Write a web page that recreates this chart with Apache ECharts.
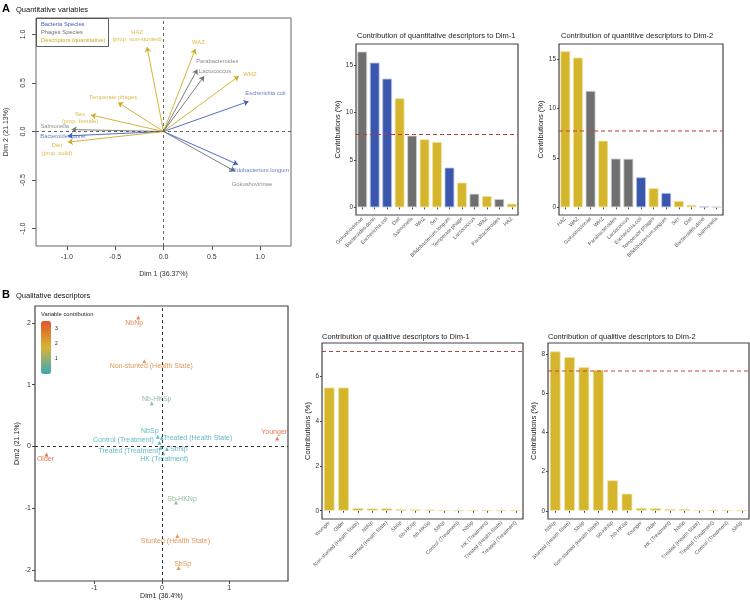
<!DOCTYPE html>
<html><head><meta charset="utf-8">
<script src="https://cdn.jsdelivr.net/npm/echarts@6/dist/echarts.min.js"></script>
<style>html,body{margin:0;padding:0;background:#fff}#c{width:750px;height:601px}</style>
</head><body><div id="c"></div>
<script>
// ===== Panel A: quantitative variables (correlation circle) =====
const quantNames = ['HAZ','WAZ','Parabacteroides','Lactococcus','WHZ','Escherichia.coli','Temperate phages','Sex','Salmonella','Bacteroides.dorei','Diet','Bifidobacterium.longum','Gokushovirinae'];
const quantLabelText = ['HAZ\n(prop. non-stunted)','WAZ','Parabacteroides','Lactococcus','WHZ','Escherichia.coli','Temperate phages','Sex\n(prop. female)','Salmonella','Bacteroides.dorei','Diet\n(prop. solid)','Bifidobacterium.longum','Gokushovirinae'];
const quantDim1 = [-0.17, 0.33, 0.35, 0.42, 0.78, 0.88, -0.47, -0.75, -0.95, -0.99, -0.99, 0.77, 0.74];
const quantDim2 = [0.87, 0.85, 0.64, 0.57, 0.57, 0.31, 0.30, 0.17, 0.02, -0.045, -0.11, -0.34, -0.41];
const quantGroup = ['desc','desc','phage','phage','desc','bact','desc','desc','phage','bact','desc','bact','phage'];

// ===== Contributions of quantitative descriptors =====
const qDim1Cats = ['Gokushovirinae','Bacteroides.dorei','Escherichia.coli','Diet','Salmonella','WHZ','Sex','Bifidobacterium.longum','Temperate phage','Lactococcus','WAZ','Parabacteroides','HAZ'];
const qDim1Vals = [16.4, 15.24, 13.55, 11.48, 7.55, 7.16, 6.88, 4.18, 2.6, 1.43, 1.19, 0.87, 0.38];
const qDim1Group = ['phage','bact','bact','desc','phage','desc','desc','bact','desc','phage','desc','phage','desc'];
const qDim2Cats = ['HAZ','WAZ','Gokushovirinae','WHZ','Parabacteroides','Lactococcus','Escherichia.coli','Temperate phages','Bifidobacterium.longum','Sex','Diet','Bacteroides.dorei','Salmonella'];
const qDim2Vals = [15.77, 15.13, 11.76, 6.73, 4.92, 4.9, 3.03, 1.92, 1.45, 0.64, 0.23, 0.07, 0.03];
const qDim2Group = ['desc','desc','phage','desc','phage','phage','bact','desc','bact','desc','desc','bact','phage'];
const qExpected = 7.69;

// ===== Panel B: qualitative descriptors =====
const qualNames = ['NbNp','Non-stunted (Health State)','Nb-HKSp','NbSp','Treated (Health State)','Control (Treatment)','Treated (Treatment)','SbNp','HK (Treatment)','Younger','Older','Sb-HKNp','Stunted (Health State)','SbSp'];
const qualDim1 = [-0.35, -0.26, -0.15, -0.06, 0.0, -0.035, -0.02, 0.074, 0.02, 1.71, -1.71, 0.21, 0.23, 0.25];
const qualDim2 = [2.09, 1.38, 0.70, 0.157, 0.14, 0.06, -0.02, -0.04, -0.11, 0.13, -0.13, -0.91, -1.45, -1.97];
const qualContrib = [3.1, 2.72, 0.6, 0.05, 0.03, 0.03, 0.03, 0.01, 0.05, 3.52, 3.52, 0.75, 2.8, 2.7];

const lDim1Cats = ['Younger','Older','Non-stunted (Health State)','NbNp','Stunted (Health State)','SbSp','Sb-HKNp','Nb-HKSp','SbNp','Control (Treatment)','NbSp','HK (Treatment)','Treated (Health State)','Treated (Treatment)'];
const lDim1Vals = [5.51, 5.51, 0.12, 0.10, 0.11, 0.07, 0.06, 0.045, 0.012, 0.012, 0.012, 0.012, 0.012, 0.012];
const lDim2Cats = ['NbNp','Stunted (Health State)','SbSp','Non-stunted (Health State)','Sb-HKNp','Nb-HKSp','Younger','Older','HK (Treatment)','NbSp','Treated (Health State)','Treated (Treatment)','Control (Treatment)','SbNp'];
const lDim2Vals = [8.12, 7.83, 7.32, 7.18, 1.55, 0.87, 0.14, 0.13, 0.085, 0.08, 0.02, 0.02, 0.02, 0.01];
const lExpected = 7.14;

// ===== styles =====
const groupText = {bact:'#3f5cba', phage:'#707070', desc:'#cfaa22'};
const groupBar = {bact:'#3b57ad', phage:'#6f6f6f', desc:'#d5b52b'};
const groupBarPale = {bact:'#b9c3e3', phage:'#d2d2d2', desc:'#efe2a4'};
const gold = '#d5b52b', goldPale = '#efe3a6';
const FONT = 'Liberation Sans, Arial, sans-serif';

const offA = {
  'HAZ':[-10,-11],'WAZ':[3,-7],'Parabacteroides':[20,-8],'Lactococcus':[11,-5],'WHZ':[11,-2],
  'Escherichia.coli':[17,-8],'Temperate phages':[-5,-5],'Sex':[-11,3],'Salmonella':[-17,-3],
  'Bacteroides.dorei':[-5,1],'Diet':[-11,7],'Bifidobacterium.longum':[21,6],'Gokushovirinae':[17,13]
};
const offB = {
  'NbNp':[-4,6],'Non-stunted (Health State)':[7,5],'Nb-HKSp':[5,-4],'NbSp':[-8,-6],
  'Treated (Health State)':[36,0],'Control (Treatment)':[-36,-3],'Treated (Treatment)':[-31,3],
  'SbNp':[12,0],'HK (Treatment)':[1,6],'Younger':[-3,-6],'Older':[-1,5],
  'Sb-HKNp':[6,-4],'Stunted (Health State)':[-2,5],'SbSp':[4,-4]
};

const chart = echarts.init(document.getElementById('c'), null, {renderer:'canvas'});

function valAxis(gi, min, max, ticks, opt) {
  return Object.assign({
    gridIndex: gi, type:'value', min, max,
    axisLine:{show:false, onZero:false},
    splitLine:{show:false},
    axisTick:{show:true, length:3, customValues:ticks, lineStyle:{color:'#444'}},
    axisLabel:{customValues:ticks, fontSize:7, color:'#333', fontFamily:FONT}
  }, opt || {});
}
function catAxis(gi, cats) {
  return {
    gridIndex: gi, type:'category', data: cats,
    axisLine:{show:false},
    axisTick:{show:true, alignWithLabel:true, length:2, lineStyle:{color:'#444'}},
    axisLabel:{interval:0, rotate:45, fontSize:5.2, color:'#555', margin:3, fontFamily:FONT}
  };
}
function expLine(v, color, width) {
  return {silent:true, symbol:'none', label:{show:false},
    lineStyle:{color, type:[4,3], width}, data:[{yAxis:v}]};
}

const option = {
  backgroundColor:'#fff',
  animation:false,
  textStyle:{fontFamily:FONT},
  title:[
    {text:'Contribution of quantitative descriptors to Dim-1', left:357, top:32, padding:0, textStyle:{fontSize:7.5, fontWeight:'normal', color:'#222'}},
    {text:'Contribution of quantitive descriptors to Dim-2', left:561, top:32, padding:0, textStyle:{fontSize:7.5, fontWeight:'normal', color:'#222'}},
    {text:'Contribution of qualitive descriptors to Dim-1', left:322, top:333, padding:0, textStyle:{fontSize:7.5, fontWeight:'normal', color:'#222'}},
    {text:'Contribution of qualitive descriptors to Dim-2', left:548, top:333, padding:0, textStyle:{fontSize:7.5, fontWeight:'normal', color:'#222'}}
  ],
  grid:[
    {left:36, top:18, width:255, height:228, show:true, borderColor:'#666', borderWidth:1},
    {left:356, top:44, width:162, height:171, show:true, borderColor:'#444', borderWidth:1.2},
    {left:559, top:44, width:164, height:171, show:true, borderColor:'#444', borderWidth:1.2},
    {left:35, top:306, width:253, height:275, show:true, borderColor:'#444', borderWidth:1.2},
    {left:322, top:343, width:201, height:176, show:true, borderColor:'#444', borderWidth:1.2},
    {left:548, top:343, width:201, height:176, show:true, borderColor:'#444', borderWidth:1.2}
  ],
  xAxis:[
    valAxis(0, -1.32, 1.32, [-1,-0.5,0,0.5,1], {
      axisLabel:{customValues:[-1,-0.5,0,0.5,1], formatter:v=>v.toFixed(1), fontSize:7, color:'#333', margin:8},
      axisTick:{show:true, length:4, customValues:[-1,-0.5,0,0.5,1], lineStyle:{color:'#555'}},
      name:'Dim 1 (36.37%)', nameLocation:'middle', nameGap:25, nameTextStyle:{fontSize:7, color:'#333'}}),
    catAxis(1, qDim1Cats),
    catAxis(2, qDim2Cats),
    valAxis(3, -1.88, 1.87, [-1,0,1], {
      axisLabel:{customValues:[-1,0,1], fontSize:7, color:'#333', margin:4},
      name:'Dim1 (36.4%)', nameLocation:'middle', nameGap:12, nameTextStyle:{fontSize:7, color:'#222'}}),
    catAxis(4, lDim1Cats),
    catAxis(5, lDim2Cats)
  ],
  yAxis:[
    valAxis(0, -1.18, 1.17, [-1,-0.5,0,0.5,1], {
      axisLabel:{customValues:[-1,-0.5,0,0.5,1], formatter:v=>v.toFixed(1), fontSize:7, color:'#333', margin:9, rotate:90},
      axisTick:{show:true, length:4, customValues:[-1,-0.5,0,0.5,1], lineStyle:{color:'#555'}},
      name:'Dim 2 (21.13%)', nameLocation:'middle', nameGap:26, nameTextStyle:{fontSize:7, color:'#333'}}),
    valAxis(1, -0.81, 17.2, [0,5,10,15], {
      axisLabel:{customValues:[0,5,10,15], fontSize:6.5, color:'#333', margin:3},
      axisTick:{show:true, length:2, customValues:[0,5,10,15], lineStyle:{color:'#444'}},
      name:'Contributions (%)', nameLocation:'middle', nameGap:12, nameTextStyle:{fontSize:7.5, color:'#222'}}),
    valAxis(2, -0.78, 16.5, [0,5,10,15], {
      axisLabel:{customValues:[0,5,10,15], fontSize:6.5, color:'#333', margin:3},
      axisTick:{show:true, length:2, customValues:[0,5,10,15], lineStyle:{color:'#444'}},
      name:'Contributions (%)', nameLocation:'middle', nameGap:12, nameTextStyle:{fontSize:7.5, color:'#222'}}),
    valAxis(3, -2.18, 2.275, [-2,-1,0,1,2], {
      axisLabel:{customValues:[-2,-1,0,1,2], fontSize:7, color:'#333', margin:4},
      name:'Dim2 (21.1%)', nameLocation:'middle', nameGap:12, nameTextStyle:{fontSize:7, color:'#222'}}),
    valAxis(4, -0.37, 7.5, [0,2,4,6], {
      axisLabel:{customValues:[0,2,4,6], fontSize:6.5, color:'#333', margin:3},
      axisTick:{show:true, length:2, customValues:[0,2,4,6], lineStyle:{color:'#444'}},
      name:'Contributions (%)', nameLocation:'middle', nameGap:8, nameTextStyle:{fontSize:7.5, color:'#222'}}),
    valAxis(5, -0.42, 8.55, [0,2,4,6,8], {
      axisLabel:{customValues:[0,2,4,6,8], fontSize:6.5, color:'#333', margin:3},
      axisTick:{show:true, length:2, customValues:[0,2,4,6,8], lineStyle:{color:'#444'}},
      name:'Contributions (%)', nameLocation:'middle', nameGap:8, nameTextStyle:{fontSize:7.5, color:'#222'}})
  ],
  visualMap:[{
    type:'continuous', seriesIndex:4, dimension:2, min:0, max:3.52,
    inRange:{color:['#3aa7b8','#d8b435','#e0552b']},
    show:true, calculable:false, itemWidth:10, itemHeight:53, left:41, top:321, padding:0,
    text:null, hoverLink:false
  }],
  series:[
    { // arrows
      type:'lines', coordinateSystem:'cartesian2d', xAxisIndex:0, yAxisIndex:0,
      symbol:['none','arrow'], symbolSize:5, silent:true,
      data: quantNames.map((n,i)=>({coords:[[0,0],[quantDim1[i],quantDim2[i]]],
        lineStyle:{color:groupText[quantGroup[i]], width:0.9, opacity:1}}))
    },
    { // arrow labels + zero lines
      type:'scatter', xAxisIndex:0, yAxisIndex:0, symbolSize:0, silent:true,
      data: quantNames.map((n,i)=>({value:[quantDim1[i],quantDim2[i]], name:n,
        label:{offset:offA[n], color:groupText[quantGroup[i]]}})),
      label:{show:true, position:'inside', formatter:p=>quantLabelText[p.dataIndex], fontSize:5.8, lineHeight:7.5, align:'center', verticalAlign:'middle'},
      markLine:{silent:true, symbol:'none', label:{show:false}, lineStyle:{color:'#555', type:[3,3], width:0.9},
        data:[{xAxis:0},{yAxis:0}]}
    },
    {
      type:'bar', xAxisIndex:1, yAxisIndex:1, barWidth:'78%',
      data: qDim1Vals.map((v,i)=>({value:v, itemStyle:{color:groupBar[qDim1Group[i]], borderColor:groupBarPale[qDim1Group[i]], borderWidth:0.8}})),
      markLine: expLine(qExpected, '#b23a3a', 1)
    },
    {
      type:'bar', xAxisIndex:2, yAxisIndex:2, barWidth:'78%',
      data: qDim2Vals.map((v,i)=>({value:v, itemStyle:{color:groupBar[qDim2Group[i]], borderColor:groupBarPale[qDim2Group[i]], borderWidth:0.8}})),
      markLine: expLine(qExpected, 'rgba(196,70,70,0.55)', 2)
    },
    { // qualitative map
      type:'scatter', xAxisIndex:3, yAxisIndex:3, symbol:'triangle', symbolSize:4,
      data: qualNames.map((n,i)=>({value:[qualDim1[i],qualDim2[i],qualContrib[i]], name:n,
        label:{offset:offB[n]}})),
      label:{show:true, position:'inside', formatter:'{b}', fontSize:7, color:'inherit', align:'center', verticalAlign:'middle'},
      markLine:{silent:true, symbol:'none', label:{show:false}, lineStyle:{color:'#333', type:[3,3], width:1},
        data:[{xAxis:0},{yAxis:0}]}
    },
    {
      type:'bar', xAxisIndex:4, yAxisIndex:4, barWidth:'75%',
      data: lDim1Vals.map(v=>({value:v, itemStyle:{color: v < 0.03 ? goldPale : gold, borderColor:goldPale, borderWidth:0.8}})),
      markLine: expLine(lExpected, '#9c3434', 0.9)
    },
    {
      type:'bar', xAxisIndex:5, yAxisIndex:5, barWidth:'75%',
      data: lDim2Vals.map(v=>({value:v, itemStyle:{color: v < 0.03 ? goldPale : gold, borderColor:goldPale, borderWidth:0.8}})),
      markLine: expLine(lExpected, 'rgba(196,70,70,0.5)', 2)
    }
  ],
  graphic:[
    {type:'text', left:2, top:3, style:{text:'A', fontSize:11, fontWeight:'bold', fill:'#000', fontFamily:FONT}},
    {type:'text', left:16, top:6, style:{text:'Quantitative variables', fontSize:7.5, fill:'#111', fontFamily:FONT}},
    {type:'text', left:2, top:289, style:{text:'B', fontSize:11, fontWeight:'bold', fill:'#000', fontFamily:FONT}},
    {type:'text', left:16, top:292, style:{text:'Qualitative descriptors', fontSize:7.5, fill:'#111', fontFamily:FONT}},
    {type:'rect', shape:{x:36.5, y:18.5, width:72, height:28}, style:{fill:'#fff', stroke:'#333', lineWidth:0.8}, z:10},
    {type:'text', x:41, y:21, z:11, style:{text:'Bacteria Species', fontSize:5.8, fill:groupText.bact, fontFamily:FONT}},
    {type:'text', x:41, y:29, z:11, style:{text:'Phages Species', fontSize:5.8, fill:groupText.phage, fontFamily:FONT}},
    {type:'text', x:41, y:37, z:11, style:{text:'Descriptors (quantitative)', fontSize:5.8, fill:groupText.desc, fontFamily:FONT}},
    {type:'text', x:41, y:311, style:{text:'Variable contribution', fontSize:5.8, fill:'#222', fontFamily:FONT}},
    {type:'text', x:55, y:326, style:{text:'3', fontSize:5, fill:'#222', fontFamily:FONT}},
    {type:'text', x:55, y:341, style:{text:'2', fontSize:5, fill:'#222', fontFamily:FONT}},
    {type:'text', x:55, y:356, style:{text:'1', fontSize:5, fill:'#222', fontFamily:FONT}}
  ]
};
chart.setOption(option);
</script></body></html>
